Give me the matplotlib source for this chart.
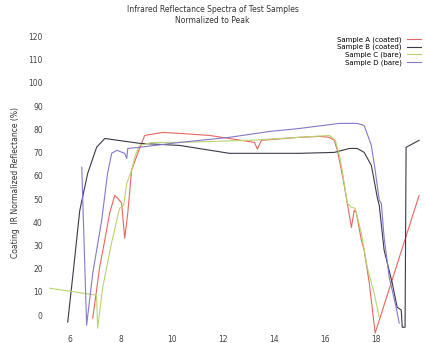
"""
Reflectance curves for four coated samples
"""
import matplotlib
matplotlib.use('Agg')
import matplotlib.pyplot as plt

# wavelength (um) / reflectance (%)
red_x = [6.90, 7.17, 7.37, 7.56, 7.76, 7.88, 8.03, 8.15, 8.27, 8.42, 8.66, 8.93,
         9.63, 10.30, 11.47, 12.25, 13.23, 13.34, 13.50, 14.98, 15.77, 16.16,
         16.35, 16.47, 16.63, 16.74, 16.86, 17.02, 17.13, 17.21, 17.41, 17.52,
         17.72, 17.95, 19.67]
red_y = [-1.3, 20.6, 32.3, 43.9, 51.6, 50.3, 48.2, 33.1, 43.9, 62.4, 69.7, 77.4,
         78.7, 78.3, 77.4, 76.1, 74.4, 71.5, 75.3, 76.6, 77.0, 76.6,
         75.3, 71.0, 62.4, 55.9, 48.2, 37.8, 45.2, 44.3, 32.3, 28.0,
         13.8, -7.7, 51.6]

green_x = [5.22, 7.05, 7.09, 7.29, 7.64, 7.95, 8.11, 8.23, 8.42, 8.54, 8.73, 9.24,
           10.30, 13.03, 14.98, 16.16, 16.39, 16.55, 16.66, 16.86, 17.02, 17.17,
           17.41, 17.64, 17.91, 18.11]
green_y = [11.6, 8.6, -5.6, 12.0, 31.4, 46.0, 47.3, 56.8, 62.4, 68.0, 73.1, 74.4,
           74.4, 75.3, 76.6, 77.4, 75.3, 68.8, 62.4, 48.2, 46.5, 46.0,
           35.3, 20.6, 9.5, -0.9]

blue_x = [6.47, 6.66, 6.90, 7.25, 7.48, 7.64, 7.84, 8.15, 8.23, 8.27, 8.73, 10.30,
          12.25, 13.81, 14.98, 16.55, 17.25, 17.52, 17.80, 17.95, 18.11, 18.19,
          18.30, 18.50, 18.77, 18.89]
blue_y = [63.7, -4.3, 18.1, 40.9, 61.1, 69.7, 71.0, 69.7, 67.5, 71.8, 72.3, 74.4,
          76.6, 79.1, 80.4, 82.6, 82.6, 81.7, 73.1, 62.4, 49.5, 48.2,
          33.5, 16.3, 3.4, -3.4]

dark_x = [5.92, 6.15, 6.39, 6.70, 7.05, 7.37, 8.73, 10.30, 12.25, 14.98, 16.35,
          16.94, 17.25, 17.52, 17.80, 17.91, 18.03, 18.11, 18.30, 18.62, 18.81,
          18.97, 19.01, 19.12, 19.16, 19.67]
dark_y = [-3.0, 20.0, 45.0, 61.0, 72.3, 76.1, 74.0, 73.1, 69.7, 69.7, 70.1,
          71.8, 71.8, 70.1, 64.5, 58.1, 50.8, 47.3, 28.0, 13.8, 3.4,
          2.2, -5.2, -5.2, 72.3, 75.3]

labels = ['Sample A (coated)', 'Sample B (coated)',
          'Sample C (bare)', 'Sample D (bare)']
x_ticks = [6, 8, 10, 12, 14, 16, 18]
y_ticks = list(range(0, 130, 10))

fig = plt.figure(figsize=(4.25, 3.43), dpi=100)
ax = fig.add_axes([0.104, 0.027, 0.896, 0.88])

ax.plot(red_x, red_y, color='#e8675c', lw=0.8, label=labels[0])
ax.plot(dark_x, dark_y, color='#3a3a48', lw=0.8, label=labels[1])
ax.plot(green_x, green_y, color='#b9d46e', lw=0.8, label=labels[2])
ax.plot(blue_x, blue_y, color='#8478cc', lw=0.8, label=labels[3])

ax.set_xlim(5.0, 19.9)
ax.set_ylim(-8, 122)
ax.set_xticks(x_ticks)
ax.set_yticks(y_ticks)
ax.tick_params(labelsize=5.5, length=0, pad=1, colors='#444444')
for s in ax.spines.values():
    s.set_visible(False)

ax.set_ylabel('Coating  IR Normalized Reflectance (%)', fontsize=5.5,
              color='#333333', labelpad=6)
fig.suptitle('Infrared Reflectance Spectra of Test Samples\nNormalized to Peak',
             fontsize=5.5, color='#333333', y=0.985)

# text first, line sample on the right
ax.legend(loc='upper right', fontsize=5, frameon=False, handlelength=2,
          borderaxespad=0.2, labelspacing=0.2, markerfirst=False)

fig.savefig('out.png', dpi=100)
